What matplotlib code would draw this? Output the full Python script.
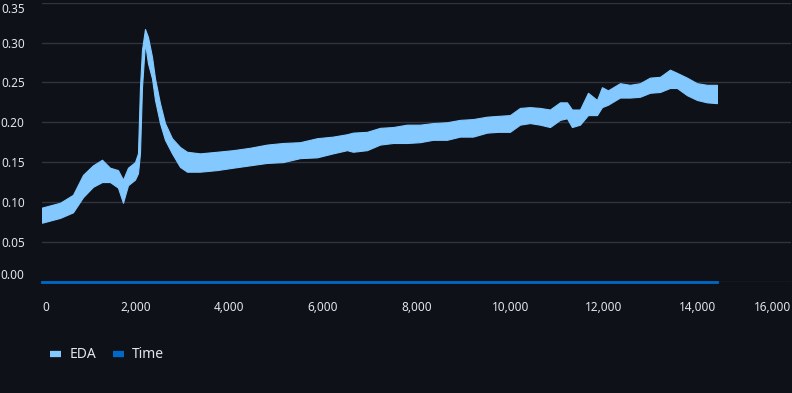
import matplotlib
matplotlib.use("Agg")
import matplotlib.pyplot as plt
from matplotlib.lines import Line2D

# EDA signal: sample index with lower / upper edge of the noisy band
eda_idx = [0, 385, 662, 876, 1089, 1282, 1452, 1623, 1730, 1837, 1986, 2050, 2093,
           2136, 2200, 2264, 2350, 2414, 2520, 2627, 2777, 2948, 3097, 3375, 3738,
           4080, 4443, 4806, 5148, 5511, 5874, 6216, 6515, 6643, 6942, 7220, 7497,
           7796, 8074, 8352, 8651, 8928, 9206, 9505, 9740, 9996, 10210, 10424, 10637,
           10851, 11065, 11214, 11321, 11492, 11663, 11855, 11962, 12090, 12346, 12560,
           12774, 12987, 13201, 13414, 13564, 13777, 13991, 14204, 14418]
eda_low = [0.074, 0.080, 0.087, 0.106, 0.119, 0.125, 0.125, 0.118, 0.099, 0.121, 0.128,
           0.136, 0.161, 0.244, 0.300, 0.274, 0.255, 0.228, 0.199, 0.178, 0.161, 0.144,
           0.138, 0.138, 0.140, 0.143, 0.146, 0.149, 0.150, 0.155, 0.156, 0.161, 0.165,
           0.163, 0.165, 0.172, 0.174, 0.174, 0.175, 0.178, 0.178, 0.182, 0.182, 0.187,
           0.188, 0.188, 0.197, 0.199, 0.197, 0.194, 0.203, 0.205, 0.194, 0.197, 0.209,
           0.209, 0.219, 0.222, 0.231, 0.231, 0.232, 0.237, 0.238, 0.243, 0.243, 0.234,
           0.228, 0.225, 0.224]
eda_high = [0.093, 0.099, 0.109, 0.134, 0.146, 0.153, 0.143, 0.140, 0.128, 0.143, 0.150,
            0.161, 0.244, 0.291, 0.317, 0.307, 0.282, 0.255, 0.224, 0.199, 0.180, 0.169,
            0.163, 0.161, 0.163, 0.165, 0.168, 0.172, 0.174, 0.175, 0.180, 0.182, 0.185,
            0.187, 0.188, 0.193, 0.194, 0.197, 0.197, 0.199, 0.200, 0.203, 0.204, 0.207,
            0.208, 0.209, 0.218, 0.219, 0.218, 0.216, 0.225, 0.225, 0.216, 0.216, 0.237,
            0.228, 0.244, 0.240, 0.249, 0.247, 0.249, 0.256, 0.257, 0.266, 0.262, 0.256,
            0.249, 0.247, 0.247]

# Time series sits flat on zero
time_idx = [0, 14418]
time_val = [0.0, 0.0]

y_ticks = [0.00, 0.05, 0.10, 0.15, 0.20, 0.25, 0.30, 0.35]
x_ticks = [0, 2000, 4000, 6000, 8000, 10000, 12000, 14000, 16000]

bg = "#0e1117"
txt = "#e2e5ec"
c_eda = "#83c9ff"
c_time = "#0068c9"

plt.rcParams["font.family"] = ["Noto Sans", "DejaVu Sans"]

fig = plt.figure(figsize=(7.92, 3.93), dpi=100)
fig.set_facecolor(bg)
ax = fig.add_axes([42 / 792, 1 - 281.7 / 393, 749 / 792, 279 / 393])
ax.set_facecolor(bg)

ax.fill_between(eda_idx, eda_low, eda_high, color=c_eda, linewidth=0.8, edgecolor=c_eda)
ax.plot(time_idx, time_val, color=c_time, linewidth=2, clip_on=False, zorder=3)

ax.set_xlim(0, 16000)
ax.set_ylim(0, 0.35)
ax.set_yticks(y_ticks)
ax.set_xticks(x_ticks)
ax.set_yticklabels(["%.2f" % v for v in y_ticks])
ax.set_xticklabels(["{:,}".format(v) for v in x_ticks])
ax.grid(axis="y", color="#31333f", linewidth=1)
ax.set_axisbelow(True)
for s in ax.spines.values():
    s.set_visible(False)
ax.tick_params(length=0, colors=txt, labelsize=8.5)
ax.tick_params(axis="y", pad=12.5)
ax.tick_params(axis="x", pad=14)

# flush first/last labels like the original
ylabs = ax.get_yticklabels()
ylabs[0].set_va("bottom")
ylabs[-1].set_va("top")
xlabs = ax.get_xticklabels()
xlabs[0].set_ha("left")
xlabs[-1].set_ha("right")

handles = [Line2D([], [], color=c_eda, linewidth=4.5, solid_capstyle="butt"),
           Line2D([], [], color=c_time, linewidth=4.5, solid_capstyle="butt")]
fig.legend(handles, ["EDA", "Time"], loc="center left", bbox_to_anchor=(50 / 792, 1 - 355 / 393),
           ncol=2, frameon=False, handlelength=0.8, handletextpad=0.6, columnspacing=1.2,
           borderpad=0, borderaxespad=0, fontsize=10, labelcolor=txt)

fig.savefig("out.png", dpi=100, facecolor=bg)
